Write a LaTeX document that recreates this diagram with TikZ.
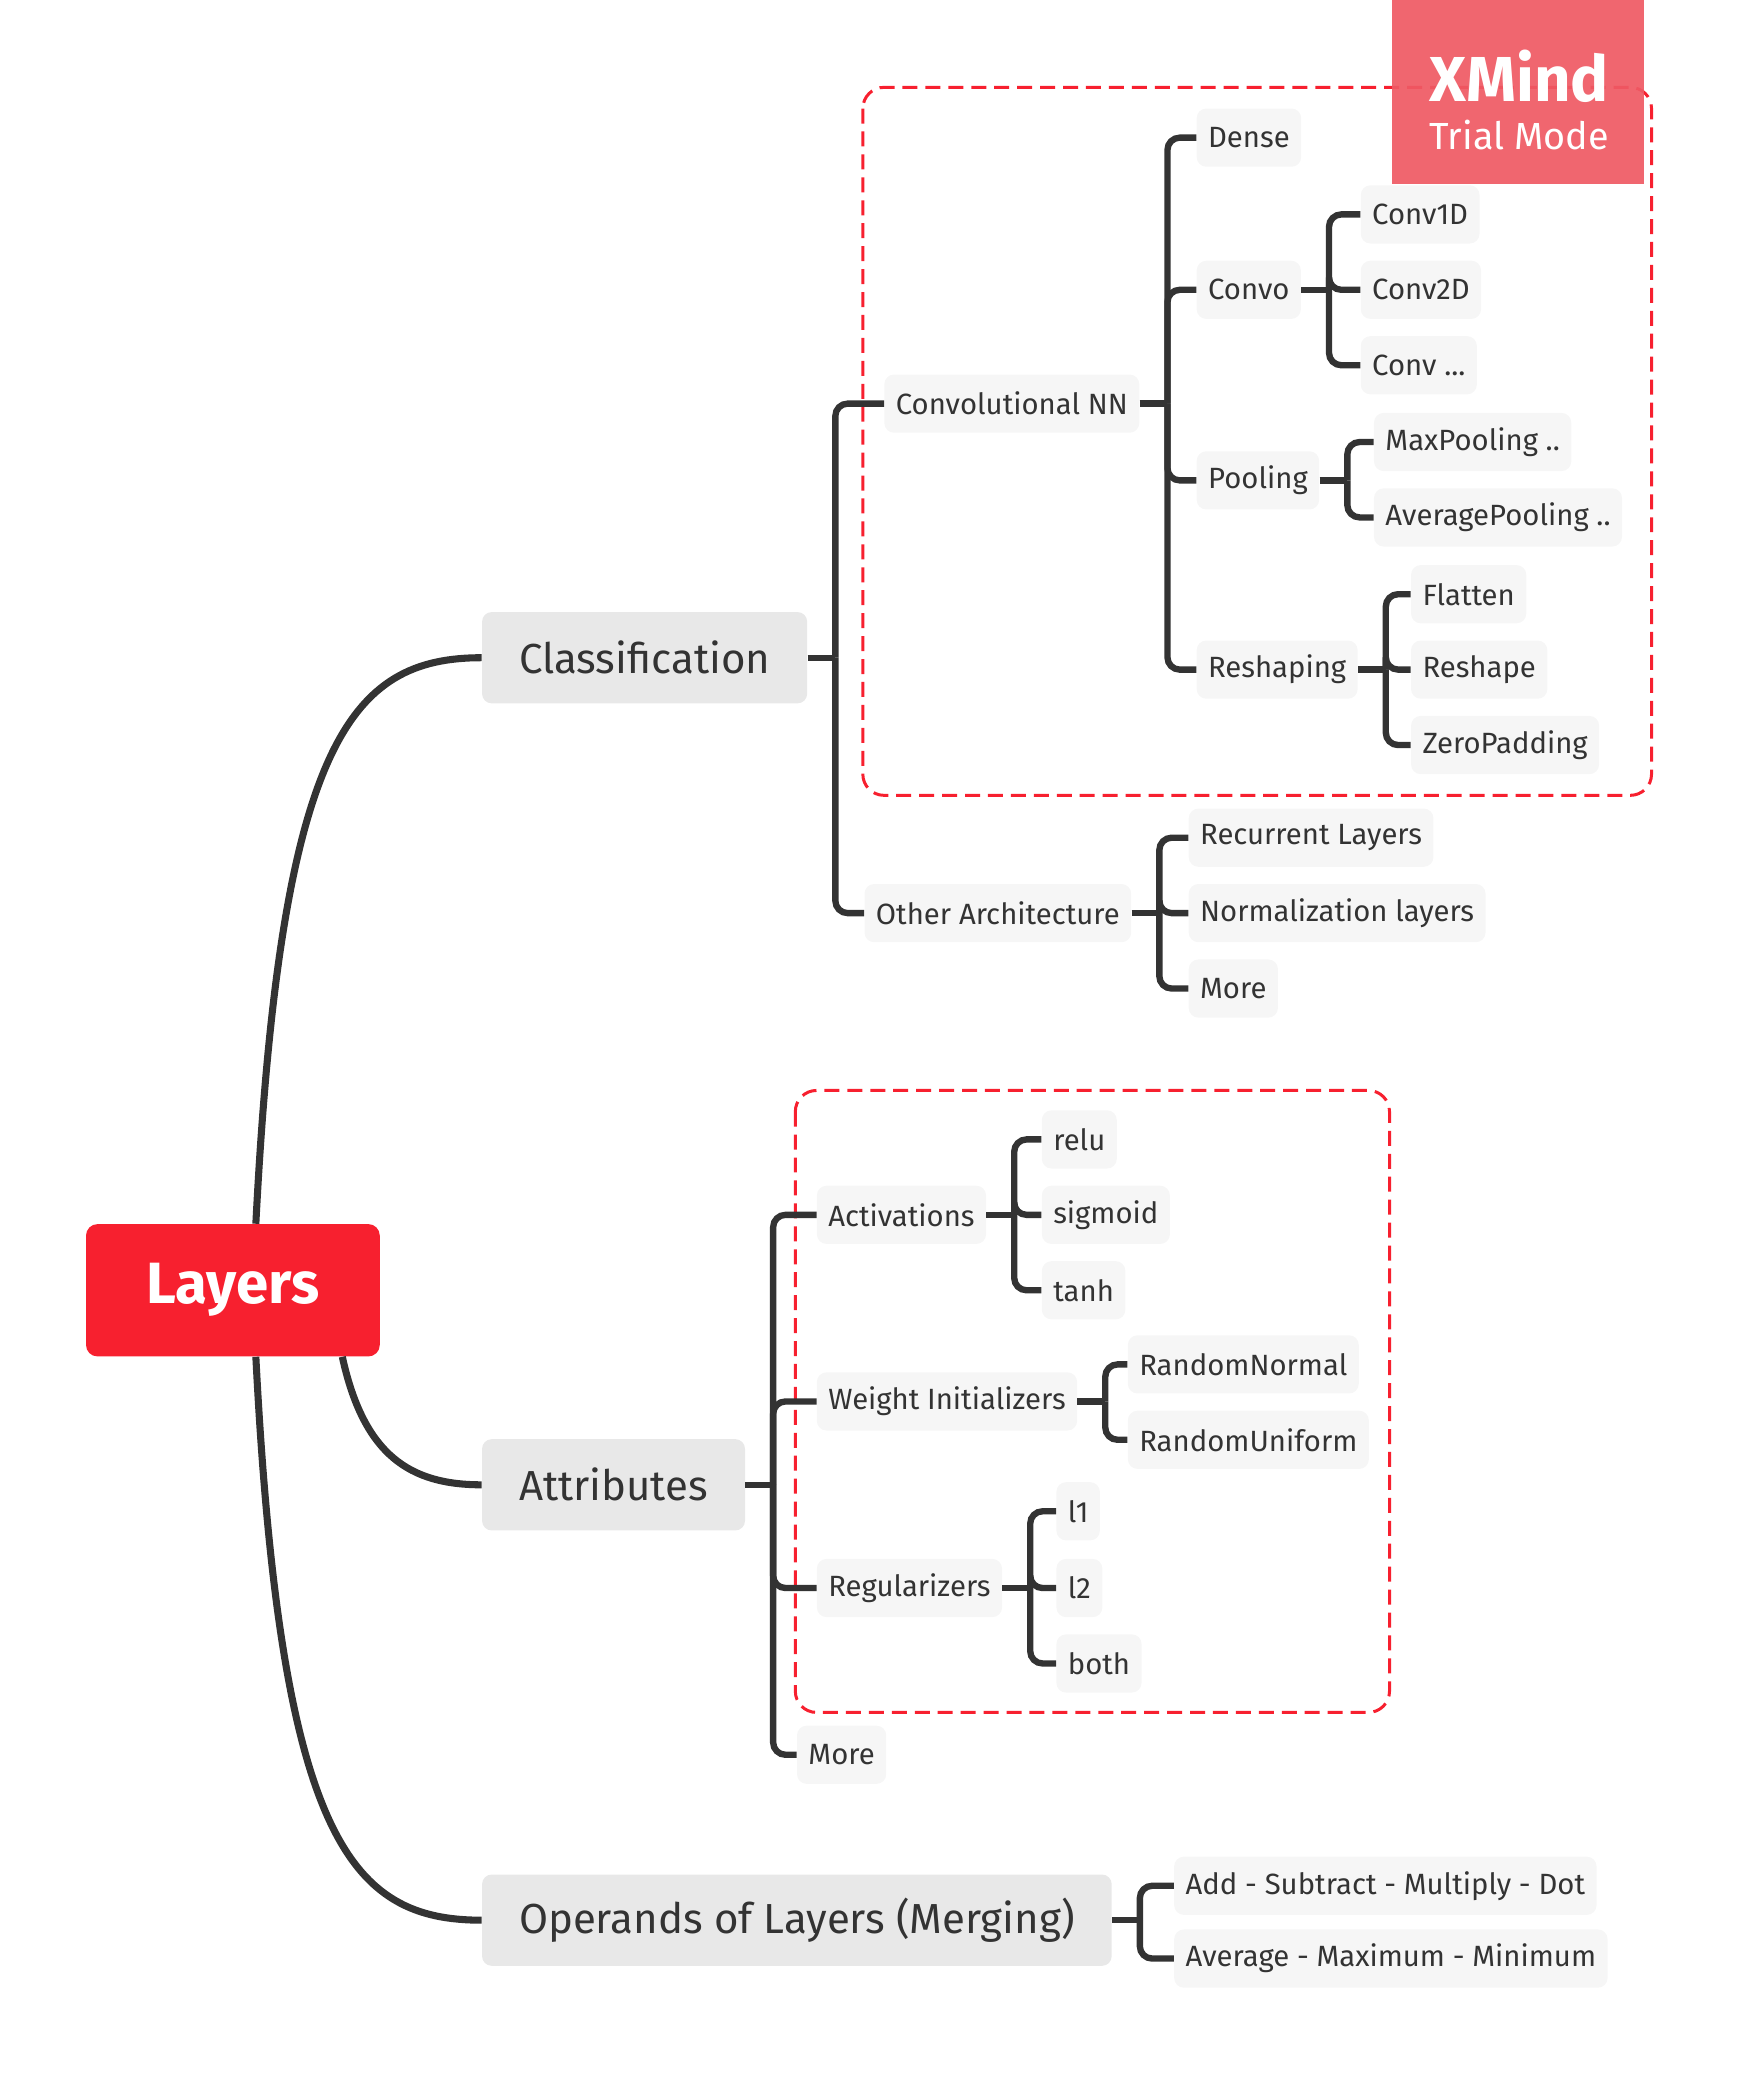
\documentclass[tikz,border=0pt]{standalone}
\usepackage{fontspec}
\setmainfont{Fira Sans}
\usetikzlibrary{calc}

\definecolor{rootred}{RGB}{247,32,47}
\definecolor{markred}{RGB}{239,90,100}
\definecolor{maingray}{RGB}{232,232,232}
\definecolor{leafgray}{RGB}{246,246,246}
\definecolor{linegray}{RGB}{51,51,51}

\tikzset{
  topic/.style={anchor=west, fill=leafgray, text=linegray, rounded corners=5.5pt,
    minimum height=33pt, inner xsep=6.5pt, font=\fontsize{16.6}{19}\selectfont},
  maintopic/.style={topic, fill=maingray, minimum height=51.75pt, inner xsep=21pt,
    font=\fontsize{23.8}{27}\selectfont},
  roottopic/.style={fill=rootred, text=white, rounded corners=6.5pt, minimum width=166.5pt,
    minimum height=75pt, font=\fontsize{33}{36}\selectfont\bfseries},
  markbox/.style={fill=markred, fill opacity=0.93, minimum width=142.5pt, minimum height=104.5pt, inner sep=0pt},
  marktext/.style={text=white, inner sep=0pt},
  branch/.style={draw=linegray, line width=3.6pt, rounded corners=7pt},
  mainbranch/.style={draw=linegray, line width=4pt},
  boundary/.style={draw=rootred, line width=1.7pt, dash pattern=on 8.5pt off 4.5pt, rounded corners=12pt},
}

\begin{document}
\begin{tikzpicture}[x=0.75pt, y=-0.75pt]
\useasboundingbox (0,0) rectangle (1314,1568);

% boundaries
\draw[boundary] (652,66) rectangle (1248,601);
\draw[boundary] (601,824) rectangle (1050,1294);

% root and main topics
\node[roottopic] (layers) at (176,975) {Layers};
\node[maintopic] (classif) at (364,497) {Classification};
\node[maintopic] (attrib) at (364,1122) {Attributes};
\node[maintopic] (operands) at (364,1451) {Operands of Layers (Merging)};

\draw[mainbranch] ([xshift=13pt]layers.north) .. controls (212,560) and (265,497) .. (classif.west);
\draw[mainbranch] ([xshift=62pt]layers.south) .. controls (275,1100) and (310,1122) .. (attrib.west);
\draw[mainbranch] ([xshift=13pt]layers.south) .. controls (212,1390) and (265,1451) .. (operands.west);

%% Classification
\node[topic] (convnn) at (668,305) {Convolutional NN};
\node[topic] (otherarch) at (653,690) {Other Architecture};
\draw[branch] (classif.east) -- ++(21,0) coordinate (classifb);
\foreach \c in {convnn,otherarch} \draw[branch] (classifb) |- (\c.west);

\node[topic] (dense) at (904,104) {Dense};
\node[topic] (convo) at (904,219) {Convo};
\node[topic] (pooling) at (904,363) {Pooling};
\node[topic] (reshaping) at (904,506) {Reshaping};
\draw[branch] (convnn.east) -- ++(21,0) coordinate (convnnb);
\foreach \c in {dense,convo,pooling,reshaping} \draw[branch] (convnnb) |- (\c.west);

\node[topic] (convone) at (1028,162) {Conv1D};
\node[topic] (convtwo) at (1028,219) {Conv2D};
\node[topic] (convmore) at (1028,276) {Conv ...};
\draw[branch] (convo.east) -- ++(21,0) coordinate (convob);
\foreach \c in {convone,convtwo,convmore} \draw[branch] (convob) |- (\c.west);

\node[topic] (maxpool) at (1038,334) {MaxPooling ..};
\node[topic] (avgpool) at (1038,391) {AveragePooling ..};
\draw[branch] (pooling.east) -- ++(21,0) coordinate (poolingb);
\foreach \c in {maxpool,avgpool} \draw[branch] (poolingb) |- (\c.west);

\node[topic] (flatten) at (1066,449) {Flatten};
\node[topic] (reshape) at (1066,506) {Reshape};
\node[topic] (zeropad) at (1066,563) {ZeroPadding};
\draw[branch] (reshaping.east) -- ++(21,0) coordinate (reshapingb);
\foreach \c in {flatten,reshape,zeropad} \draw[branch] (reshapingb) |- (\c.west);

\node[topic] (recurrent) at (898,633) {Recurrent Layers};
\node[topic] (normal) at (898,690) {Normalization layers};
\node[topic] (othermore) at (898,747) {More};
\draw[branch] (otherarch.east) -- ++(21,0) coordinate (otherarchb);
\foreach \c in {recurrent,normal,othermore} \draw[branch] (otherarchb) |- (\c.west);

%% Attributes
\node[topic] (activ) at (617,918) {Activations};
\node[topic] (weightinit) at (617,1059) {Weight Initializers};
\node[topic] (regul) at (617,1200) {Regularizers};
\node[topic] (attrmore) at (602,1326) {More};
\draw[branch] (attrib.east) -- ++(21,0) coordinate (attribb);
\foreach \c in {activ,weightinit,regul,attrmore} \draw[branch] (attribb) |- (\c.west);

\node[topic] (relu) at (787,861) {relu};
\node[topic] (sigmoid) at (787,918) {sigmoid};
\node[topic] (tanh) at (787,975) {tanh};
\draw[branch] (activ.east) -- ++(21,0) coordinate (activb);
\foreach \c in {relu,sigmoid,tanh} \draw[branch] (activb) |- (\c.west);

\node[topic] (rndnormal) at (852,1031) {RandomNormal};
\node[topic] (rnduniform) at (852,1088) {RandomUniform};
\draw[branch] (weightinit.east) -- ++(21,0) coordinate (weightinitb);
\foreach \c in {rndnormal,rnduniform} \draw[branch] (weightinitb) |- (\c.west);

\node[topic] (lone) at (798,1142) {l1};
\node[topic] (ltwo) at (798,1200) {l2};
\node[topic] (both) at (798,1257) {both};
\draw[branch] (regul.east) -- ++(21,0) coordinate (regulb);
\foreach \c in {lone,ltwo,both} \draw[branch] (regulb) |- (\c.west);

%% Operands
\node[topic] (addsub) at (887,1425) {Add - Subtract - Multiply - Dot};
\node[topic] (avgmax) at (887,1480) {Average - Maximum - Minimum};
\draw[branch] (operands.east) -- ++(21,0) coordinate (operandsb);
\foreach \c in {addsub,avgmax} \draw[branch] (operandsb) |- (\c.west);

% trial mark
\node[markbox] (trialmark) at (1147,69.5) {};
\node[marktext, font=\fontsize{36}{38}\selectfont\bfseries] (xmindlabel) at (1148,58) {XMind};
\node[marktext, font=\fontsize{21.4}{24}\selectfont] (triallabel) at (1148,102) {Trial Mode};
\end{tikzpicture}
\end{document}
